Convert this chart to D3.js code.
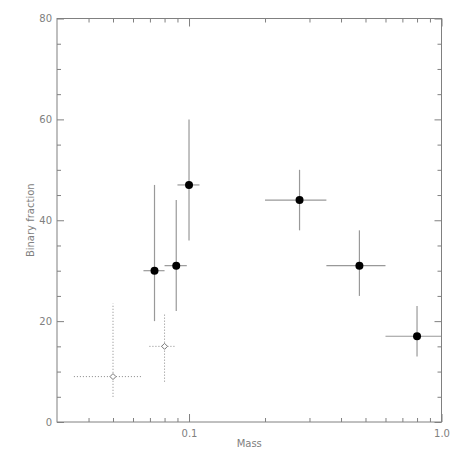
<!DOCTYPE html>
<html><head><meta charset="utf-8">
<script src="https://cdn.jsdelivr.net/npm/d3@7"></script>
<style>body{margin:0;background:#fff}</style>
</head><body>
<svg id="c" width="458" height="458"></svg>
<script>
// Filled points (solid error bars)
const massSolid = [0.073, 0.089, 0.10, 0.274, 0.473, 0.80];
const fracSolid = [30, 31, 47, 44, 31, 17];
const massLoSolid = [0.066, 0.080, 0.090, 0.20, 0.35, 0.60];
const massHiSolid = [0.080, 0.098, 0.110, 0.35, 0.60, 1.00];
const fracLoSolid = [20, 22, 36, 38, 25, 13];
const fracHiSolid = [47, 44, 60, 50, 38, 23];
// Open diamonds (dotted error bars)
const massOpen = [0.050, 0.080];
const fracOpen = [9, 15];
const massLoOpen = [0.035, 0.0697];
const massHiOpen = [0.0648, 0.0888];
const fracLoOpen = [5, 8];
const fracHiOpen = [23.5, 21.6];
// Axis ticks
const xMajor = [0.1, 1.0];
const xMajorLabels = ["0.1", "1.0"];
const xMinor = [0.04,0.05,0.06,0.07,0.08,0.09,0.2,0.3,0.4,0.5,0.6,0.7,0.8,0.9];
const yMajor = [0, 20, 40, 60, 80];
const yMinor = [5,10,15,25,30,35,45,50,55,65,70,75];

const L = 57, R = 441.5, T = 18.5, B = 422;
const x = d3.scaleLog().domain([0.03, 1.0]).range([L, R]);
const y = d3.scaleLinear().domain([0, 80]).range([B, T]);
const svg = d3.select("#c");
const axisCol = "#808080", font = "DejaVu Sans, sans-serif";

const g = svg.append("g");
const solid = massSolid.map((m,i)=>({m, f:fracSolid[i], ml:massLoSolid[i], mh:massHiSolid[i], fl:fracLoSolid[i], fh:fracHiSolid[i]}));
const open = massOpen.map((m,i)=>({m, f:fracOpen[i], ml:massLoOpen[i], mh:massHiOpen[i], fl:fracLoOpen[i], fh:fracHiOpen[i]}));

function bars(data, dash){
  const gg = g.append("g").attr("stroke", dash ? "#888" : "#999").attr("stroke-width", dash?1:1.2).attr("fill","none");
  if (dash) gg.attr("stroke-dasharray", dash);
  gg.selectAll("line.h").data(data).join("line").attr("class","h")
    .attr("x1", d=>x(d.ml)).attr("x2", d=>x(d.mh)).attr("y1", d=>y(d.f)).attr("y2", d=>y(d.f));
  gg.selectAll("line.v").data(data).join("line").attr("class","v")
    .attr("x1", d=>x(d.m)).attr("x2", d=>x(d.m)).attr("y1", d=>y(d.fl)).attr("y2", d=>y(d.fh));
}
bars(solid, null);
bars(open, "1,2");

g.selectAll("circle").data(solid).join("circle")
  .attr("cx", d=>x(d.m)).attr("cy", d=>y(d.f)).attr("r", 4).attr("fill","#000");
g.selectAll("path.dia").data(open).join("path").attr("class","dia")
  .attr("d", d=>{const cx=x(d.m), cy=y(d.f), s=3; return `M${cx},${cy-s}L${cx+s},${cy}L${cx},${cy+s}L${cx-s},${cy}Z`;})
  .attr("fill","#fff").attr("stroke","#777").attr("stroke-width",1);

svg.append("rect").attr("x",L).attr("y",T).attr("width",R-L).attr("height",B-T)
  .attr("fill","none").attr("stroke",axisCol).attr("stroke-width",1);

function addAxis(gen, tr){ const a = svg.append("g").attr("transform", tr).call(gen);
  a.select(".domain").remove(); a.selectAll("line").attr("stroke", axisCol);
  a.selectAll("text").attr("fill", axisCol).attr("font-family", font).attr("font-size", 10); return a; }

addAxis(d3.axisBottom(x).tickValues(xMajor).tickSize(-8).tickPadding(8).tickFormat((d,i)=>xMajorLabels[i]), `translate(0,${B})`);
addAxis(d3.axisBottom(x).tickValues(xMinor).tickSize(-4).tickFormat(""), `translate(0,${B})`);
addAxis(d3.axisTop(x).tickValues(xMajor).tickSize(-8).tickFormat(""), `translate(0,${T})`);
addAxis(d3.axisTop(x).tickValues(xMinor).tickSize(-4).tickFormat(""), `translate(0,${T})`);
addAxis(d3.axisLeft(y).tickValues(yMajor).tickSize(-7).tickPadding(5).tickFormat(d3.format("d")), `translate(${L},0)`);
addAxis(d3.axisLeft(y).tickValues(yMinor).tickSize(-4).tickFormat(""), `translate(${L},0)`);
addAxis(d3.axisRight(y).tickValues(yMajor).tickSize(-7).tickFormat(""), `translate(${R},0)`);
addAxis(d3.axisRight(y).tickValues(yMinor).tickSize(-4).tickFormat(""), `translate(${R},0)`);

svg.append("text").attr("x", (L+R)/2).attr("y", 447).attr("text-anchor","middle")
  .attr("fill", axisCol).attr("font-family", font).attr("font-size", 10).text("Mass");
svg.append("text").attr("transform", `translate(34,${(T+B)/2}) rotate(-90)`).attr("text-anchor","middle")
  .attr("fill", axisCol).attr("font-family", font).attr("font-size", 10).text("Binary fraction");
</script>
</body></html>
